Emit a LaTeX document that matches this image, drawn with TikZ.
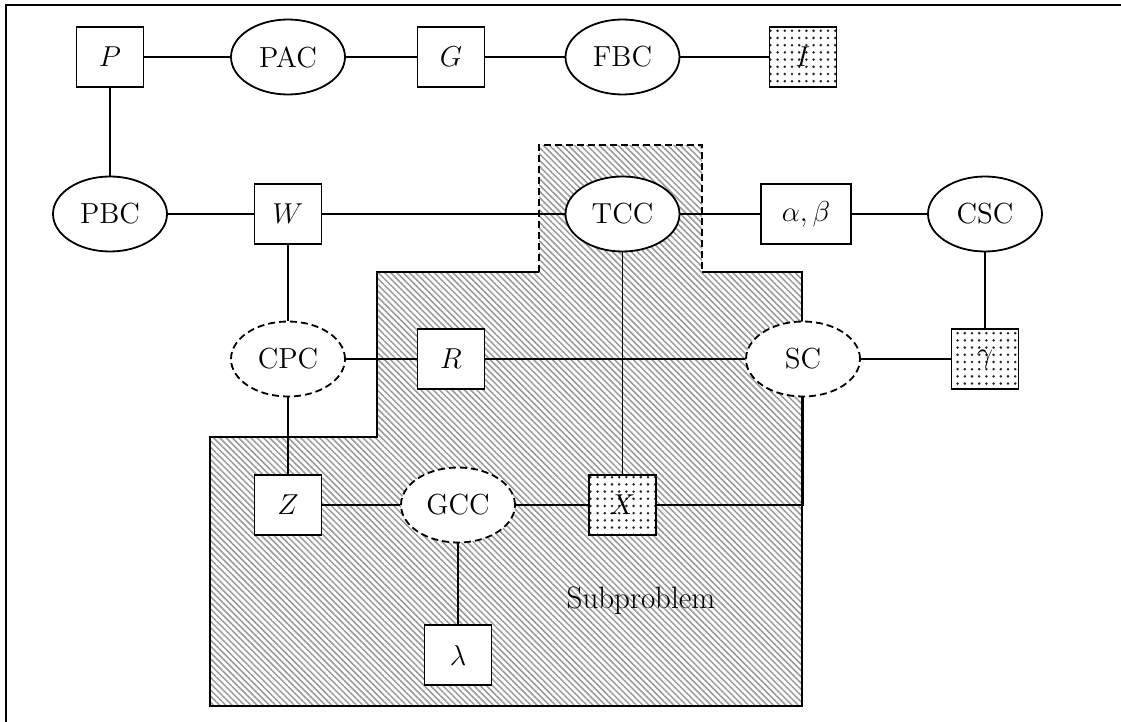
\documentclass[tikz,border=0pt]{standalone}
\usepackage{fontspec}
\usetikzlibrary{shapes.geometric,patterns.meta}

\tikzset{
  x=0.5pt, y=-0.5pt,
  every node/.style={font=\fontsize{14.5}{17}\selectfont},
  lw/.style={line width=0.9pt},
  conn/.style={lw},
  dashstyle/.style={dash pattern=on 3.5pt off 2pt},
  var/.style={rectangle, draw, lw, fill=white, minimum width=33.5pt,
    minimum height=30pt, inner sep=0pt},
  dotvar/.style={var, preaction={fill=white},
    pattern={Dots[distance=3.6pt, radius=0.7pt]}, pattern color=black!85},
  con/.style={ellipse, draw, lw, fill=white, minimum width=57pt,
    minimum height=37.5pt, inner sep=0pt},
  softcon/.style={con, dashstyle},
  hatch/.style={pattern={Lines[angle=-45, distance=2.2pt, line width=0.75pt]},
    pattern color=black!40},
}

\begin{document}
\begin{tikzpicture}
\useasboundingbox (0,0) rectangle (1121,722);

% outer frame
\draw[line width=1.3pt] (6,722) -- (6,5) -- (1121,5);

% subproblem region
\fill[hatch] (210,706) -- (210,437) -- (377,437) -- (377,272) -- (539,272)
  -- (539,145) -- (702,145) -- (702,272) -- (802,272) -- (802,706) -- cycle;
\draw[lw] (539,272) -- (377,272) -- (377,437) -- (210,437) -- (210,706)
  -- (802,706) -- (802,272) -- (702,272);
\draw[lw, dashstyle] (539,272) -- (539,145) -- (702,145) -- (702,272);
\node[font=\fontsize{15.5}{18}\selectfont] (sub) at (641,601) {Subproblem};

% first row
\node[var] (P) at (110,57) {$P$};
\node[con] (PAC) at (288,57) {PAC};
\node[var] (G) at (451,57) {$G$};
\node[con] (FBC) at (622.5,57) {FBC};
\node[dotvar] (I) at (803,57) {$I$};

% second row
\node[con] (PBC) at (110,214) {PBC};
\node[var] (W) at (288,214) {$W$};
\node[con] (TCC) at (622.5,214) {TCC};
\node[var, minimum width=45pt] (AB) at (806,214) {$\alpha,\beta$};
\node[con] (CSC) at (985,214) {CSC};

% third row
\node[softcon] (CPC) at (288,359) {CPC};
\node[var] (R) at (451,359) {$R$};
\node[softcon] (SC) at (803,359) {SC};
\node[dotvar] (GAM) at (985,359) {$\gamma$};

% fourth row
\node[var] (Z) at (288,505) {$Z$};
\node[softcon] (GCC) at (458,505) {GCC};
\node[dotvar] (X) at (622.5,505) {$X$};

% last row
\node[var] (LAM) at (458,655) {$\lambda$};

% connectors
\draw[conn] (P) -- (PAC);
\draw[conn] (PAC) -- (G);
\draw[conn] (G) -- (FBC);
\draw[conn] (FBC) -- (I);
\draw[conn] (P) -- (PBC);
\draw[conn] (PBC) -- (W);
\draw[conn] (W) -- (TCC);
\draw[conn] (TCC) -- (AB);
\draw[conn] (AB) -- (CSC);
\draw[conn] (CSC) -- (GAM);
\draw[conn] (W) -- (CPC);
\draw[conn] (CPC) -- (R);
\draw[conn] (R) -- (SC);
\draw[conn] (SC) -- (GAM);
\draw[conn] (CPC) -- (Z);
\draw[conn] (Z) -- (GCC);
\draw[conn] (GCC) -- (X);
\draw[conn] (GCC) -- (LAM);
\draw[conn] (TCC) -- (X);
\draw[conn] (X.east) -- (X.east -| SC.south) -- (SC.south);
\end{tikzpicture}
\end{document}
